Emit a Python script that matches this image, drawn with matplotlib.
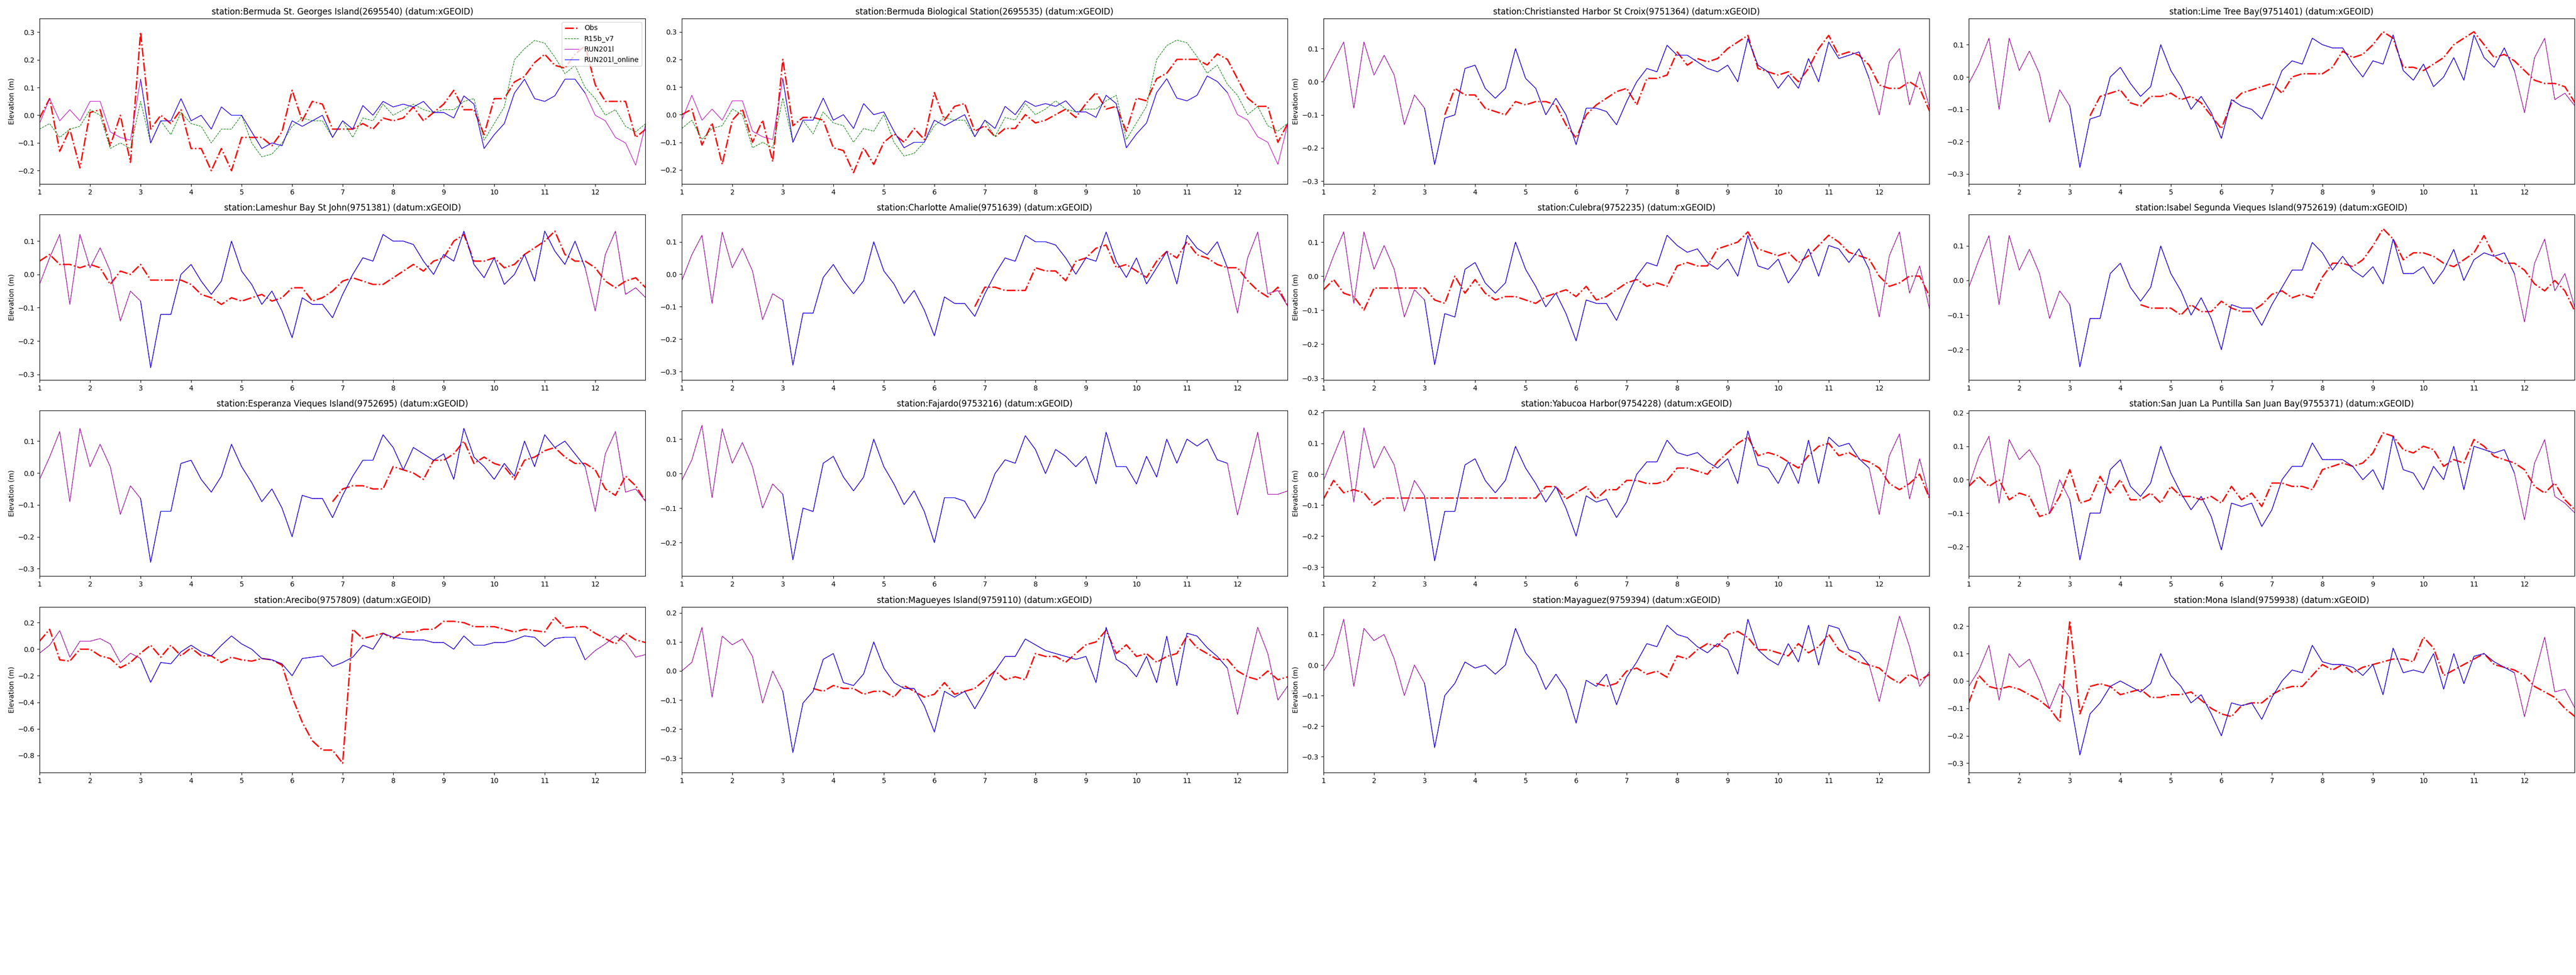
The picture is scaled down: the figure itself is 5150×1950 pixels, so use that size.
import numpy as np
import matplotlib
matplotlib.use("Agg")
import matplotlib.pyplot as plt

nan = np.nan

# time axis in days, one value every 0.2 day (1.0 .. 13.0)
days = np.round(np.arange(1.0, 13.01, 0.2), 1)
online_start, online_end = 3.0, 11.8

# ---- Bermuda St. Georges Island
bsg_obs = [
    -0.01, 0.06, -0.13, -0.05, -0.19, 0.01, 0.02, -0.11, 0.0, -0.17,
    0.30, -0.05, 0.0, -0.03, 0.02, -0.12, -0.12, -0.2, -0.12, -0.2,
    -0.08, -0.08, -0.08, -0.11, -0.06, 0.09, -0.02, 0.05, 0.04, -0.05,
    -0.05, -0.05, -0.03, -0.05, -0.01, -0.02, -0.01, 0.03, -0.02, 0.01,
    0.04, 0.09, 0.02, 0.02, -0.07, 0.06, 0.06, 0.12, 0.14, 0.19,
    0.22, 0.18, 0.17, 0.22, 0.25, 0.11, 0.05, 0.05, 0.05, -0.08, -0.05]
bsg_r15b = [
    -0.05, -0.03, -0.08, -0.05, -0.04, 0.02, 0.0, -0.12, -0.1, -0.12,
    0.05, -0.1, -0.02, -0.07, 0.01, -0.03, -0.04, -0.1, -0.05, -0.05,
    0.0, -0.1, -0.15, -0.14, -0.1, -0.04, -0.01, -0.02, -0.02, -0.08,
    -0.02, -0.08, -0.01, -0.02, 0.04, 0.0, 0.02, 0.04, 0.02, 0.01,
    0.02, 0.02, 0.05, 0.06, -0.09, -0.03, 0.03, 0.2, 0.24, 0.27,
    0.26, 0.21, 0.15, 0.18, 0.1, 0.06, 0.0, 0.02, -0.04, -0.06, -0.03]
bsg_run = [
    -0.03, 0.06, -0.02, 0.02, -0.02, 0.05, 0.05, -0.06, -0.08, -0.09,
    0.13, -0.1, -0.02, -0.02, 0.06, -0.02, 0.0, -0.05, 0.03, 0.0,
    0.0, -0.06, -0.12, -0.1, -0.11, -0.02, -0.04, -0.02, 0.0, -0.08,
    -0.02, -0.05, 0.035, 0.0, 0.05, 0.03, 0.04, 0.03, 0.05, 0.01,
    0.01, -0.01, 0.07, 0.04, -0.12, -0.07, -0.03, 0.08, 0.13, 0.06,
    0.05, 0.07, 0.13, 0.13, 0.08, 0.0, -0.02, -0.08, -0.1, -0.18, -0.03]

# ---- Bermuda Biological Station
bbs_obs = [
    0.0, 0.02, -0.11, -0.03, -0.18, -0.02, 0.02, -0.1, -0.02, -0.17,
    0.2, -0.04, -0.01, -0.01, -0.02, -0.12, -0.13, -0.21, -0.12, -0.18,
    -0.1, -0.07, -0.1, -0.05, -0.09, 0.08, -0.02, 0.03, 0.04, -0.06,
    -0.04, -0.08, -0.05, -0.05, 0.0, -0.03, -0.02, 0.0, 0.02, -0.01,
    0.04, 0.08, 0.02, 0.03, -0.06, 0.06, 0.05, 0.13, 0.15, 0.2,
    0.2, 0.2, 0.18, 0.22, 0.2, 0.13, 0.06, 0.03, 0.03, -0.1, -0.03]
bbs_r15b = [
    -0.05, -0.02, -0.09, -0.05, -0.04, 0.02, 0.0, -0.12, -0.1, -0.12,
    0.06, -0.1, -0.02, -0.07, 0.01, -0.03, -0.04, -0.1, -0.05, -0.06,
    0.0, -0.1, -0.15, -0.14, -0.1, -0.04, -0.01, -0.02, -0.02, -0.08,
    -0.02, -0.08, -0.01, -0.02, 0.04, 0.0, 0.02, 0.05, 0.02, 0.01,
    0.02, 0.02, 0.05, 0.07, -0.09, -0.03, 0.03, 0.2, 0.25, 0.27,
    0.26, 0.21, 0.15, 0.18, 0.11, 0.07, 0.0, 0.03, -0.04, -0.06, -0.03]
bbs_run = [
    -0.02, 0.07, -0.02, 0.02, -0.02, 0.05, 0.05, -0.06, -0.08, -0.09,
    0.13, -0.1, -0.02, -0.02, 0.06, -0.02, 0.0, -0.05, 0.04, 0.0,
    0.01, -0.06, -0.12, -0.1, -0.1, -0.02, -0.04, -0.02, 0.0, -0.08,
    -0.02, -0.05, 0.03, 0.0, 0.05, 0.03, 0.04, 0.03, 0.05, 0.01,
    0.01, -0.01, 0.07, 0.04, -0.12, -0.07, -0.03, 0.08, 0.13, 0.06,
    0.05, 0.07, 0.14, 0.12, 0.08, 0.0, -0.02, -0.08, -0.1, -0.18, -0.03]

# ---- Caribbean stations: the three model runs overlap almost exactly
chr_model = [
    0.0, 0.06, 0.12, -0.08, 0.12, 0.02, 0.08, 0.02, -0.13, -0.04,
    -0.08, -0.25, -0.11, -0.1, 0.04, 0.05, -0.02, -0.05, -0.02, 0.1,
    0.01, -0.02, -0.1, -0.05, -0.1, -0.19, -0.08, -0.08, -0.09, -0.13,
    -0.06, 0.0, 0.04, 0.03, 0.11, 0.08, 0.08, 0.06, 0.04, 0.03,
    0.05, 0.0, 0.13, 0.05, 0.03, -0.02, 0.02, -0.02, 0.07, 0.0,
    0.12, 0.07, 0.08, 0.09, 0.01, -0.1, 0.06, 0.1, -0.07, 0.03, -0.08]
chr_obs = [
    nan, nan, nan, nan, nan, nan, nan, nan, nan, nan,
    nan, nan, -0.1, -0.02, -0.04, -0.04, -0.08, -0.09, -0.1, -0.06,
    -0.07, -0.06, -0.06, -0.07, -0.13, -0.17, -0.1, -0.07, -0.05, -0.03,
    -0.02, -0.07, 0.01, 0.01, 0.02, 0.09, 0.05, 0.07, 0.06, 0.07,
    0.1, 0.12, 0.14, 0.04, 0.03, 0.02, 0.03, 0.0, 0.04, 0.1,
    0.14, 0.08, 0.09, 0.08, 0.05, -0.01, -0.02, -0.02, 0.0, -0.02, -0.09]

ltb_model = [
    -0.02, 0.04, 0.12, -0.1, 0.12, 0.02, 0.08, 0.01, -0.14, -0.04,
    -0.09, -0.28, -0.13, -0.12, 0.0, 0.03, -0.02, -0.06, -0.03, 0.1,
    0.02, -0.03, -0.1, -0.06, -0.11, -0.19, -0.07, -0.09, -0.1, -0.13,
    -0.06, 0.02, 0.05, 0.04, 0.12, 0.1, 0.09, 0.09, 0.04, 0.0,
    0.05, 0.04, 0.13, 0.02, -0.01, 0.04, -0.03, 0.0, 0.06, -0.01,
    0.13, 0.06, 0.03, 0.09, 0.02, -0.11, 0.06, 0.12, -0.07, -0.05, -0.09]
ltb_obs = [
    nan, nan, nan, nan, nan, nan, nan, nan, nan, nan,
    nan, nan, -0.12, -0.06, -0.05, -0.04, -0.08, -0.09, -0.06, -0.06,
    -0.05, -0.07, -0.06, -0.08, -0.12, -0.16, -0.08, -0.05, -0.04, -0.03,
    -0.02, -0.05, 0.0, 0.01, 0.01, 0.01, 0.03, 0.08, 0.06, 0.07,
    0.1, 0.14, 0.12, 0.03, 0.03, 0.02, 0.04, 0.06, 0.1, 0.12,
    0.14, 0.1, 0.06, 0.07, 0.05, 0.02, -0.01, -0.02, -0.02, -0.03, -0.08]

lam_model = [
    -0.03, 0.05, 0.12, -0.09, 0.12, 0.02, 0.08, 0.01, -0.14, -0.05,
    -0.08, -0.28, -0.12, -0.12, 0.0, 0.03, -0.02, -0.06, -0.02, 0.1,
    0.01, -0.03, -0.09, -0.05, -0.11, -0.19, -0.07, -0.09, -0.09, -0.13,
    -0.06, 0.0, 0.05, 0.04, 0.12, 0.1, 0.1, 0.09, 0.04, 0.0,
    0.06, 0.04, 0.13, 0.03, -0.01, 0.05, -0.03, 0.0, 0.06, -0.02,
    0.13, 0.07, 0.03, 0.1, 0.02, -0.11, 0.06, 0.13, -0.06, -0.04, -0.07]
lam_obs = [
    0.04, 0.06, 0.03, 0.03, 0.02, 0.03, 0.02, -0.03, 0.01, 0.0,
    0.03, -0.017, -0.017, -0.017, -0.017, -0.03, -0.06, -0.07, -0.09, -0.07,
    -0.08, -0.07, -0.06, -0.08, -0.07, -0.04, -0.04, -0.08, -0.07, -0.05,
    -0.02, -0.01, -0.02, -0.03, -0.03, -0.01, 0.01, 0.03, 0.01, 0.04,
    0.05, 0.1, 0.12, 0.04, 0.04, 0.05, 0.02, 0.03, 0.06, 0.08,
    0.1, 0.13, 0.06, 0.04, 0.04, 0.02, -0.02, -0.04, -0.02, -0.01, -0.04]

cha_model = [
    -0.02, 0.06, 0.12, -0.09, 0.13, 0.02, 0.08, 0.01, -0.14, -0.06,
    -0.08, -0.28, -0.12, -0.12, -0.01, 0.03, -0.02, -0.06, -0.02, 0.1,
    0.01, -0.03, -0.09, -0.05, -0.11, -0.19, -0.07, -0.09, -0.09, -0.13,
    -0.06, 0.0, 0.05, 0.04, 0.12, 0.1, 0.1, 0.09, 0.05, 0.0,
    0.05, 0.04, 0.13, 0.04, -0.01, 0.05, -0.03, 0.02, 0.07, -0.03,
    0.12, 0.08, 0.06, 0.1, 0.02, -0.12, 0.05, 0.13, -0.06, -0.05, -0.1]
cha_obs = [
    nan, nan, nan, nan, nan, nan, nan, nan, nan, nan,
    nan, nan, nan, nan, nan, nan, nan, nan, nan, nan,
    nan, nan, nan, nan, nan, nan, nan, nan, nan, -0.1,
    -0.04, -0.04, -0.05, -0.05, -0.05, 0.02, 0.01, 0.01, -0.02, 0.04,
    0.05, 0.08, 0.09, 0.02, 0.03, 0.01, -0.01, 0.04, 0.07, 0.05,
    0.1, 0.06, 0.05, 0.03, 0.02, 0.02, -0.02, -0.05, -0.07, -0.04, -0.1]

cul_model = [
    -0.02, 0.06, 0.13, -0.08, 0.13, 0.02, 0.09, 0.02, -0.12, -0.04,
    -0.07, -0.26, -0.11, -0.12, 0.02, 0.04, -0.02, -0.05, -0.02, 0.1,
    0.02, -0.03, -0.09, -0.05, -0.11, -0.19, -0.07, -0.08, -0.08, -0.13,
    -0.06, 0.0, 0.04, 0.03, 0.12, 0.09, 0.07, 0.08, 0.04, 0.02,
    0.05, 0.0, 0.12, 0.03, 0.02, 0.05, -0.02, 0.02, 0.08, 0.0,
    0.09, 0.08, 0.04, 0.08, 0.02, -0.12, 0.06, 0.13, -0.05, 0.03, -0.1]
cul_obs = [
    -0.04, -0.01, -0.05, -0.06, -0.1, -0.035, -0.035, -0.035, -0.035, -0.035,
    -0.035, -0.07, -0.08, 0.0, -0.05, -0.01, -0.05, -0.07, -0.06, -0.06,
    -0.07, -0.08, -0.06, -0.05, -0.04, -0.06, -0.03, -0.07, -0.06, -0.04,
    -0.02, -0.01, -0.03, -0.02, -0.03, 0.03, 0.04, 0.03, 0.03, 0.08,
    0.09, 0.1, 0.13, 0.08, 0.07, 0.06, 0.07, 0.04, 0.06, 0.09,
    0.12, 0.1, 0.07, 0.06, 0.05, 0.0, -0.03, -0.02, 0.0, 0.0, -0.06]

isa_model = [
    -0.02, 0.06, 0.13, -0.07, 0.13, 0.03, 0.09, 0.02, -0.11, -0.03,
    -0.07, -0.25, -0.11, -0.11, 0.02, 0.05, -0.02, -0.06, -0.02, 0.1,
    0.02, -0.03, -0.1, -0.05, -0.11, -0.2, -0.07, -0.08, -0.08, -0.13,
    -0.07, -0.02, 0.03, 0.03, 0.11, 0.08, 0.03, 0.07, 0.03, 0.01,
    0.04, -0.01, 0.12, 0.02, 0.02, 0.04, -0.01, 0.03, 0.09, 0.0,
    0.06, 0.08, 0.07, 0.08, 0.02, -0.12, 0.05, 0.12, -0.03, 0.02, -0.08]
isa_obs = [
    nan, nan, nan, nan, nan, nan, nan, nan, nan, nan,
    nan, nan, nan, nan, nan, nan, nan, -0.07, -0.08, -0.08,
    -0.08, -0.1, -0.07, -0.09, -0.09, -0.06, -0.08, -0.09, -0.09, -0.07,
    -0.04, -0.03, -0.05, -0.04, -0.05, 0.01, 0.05, 0.05, 0.04, 0.06,
    0.1, 0.15, 0.12, 0.06, 0.08, 0.08, 0.07, 0.05, 0.04, 0.06,
    0.08, 0.13, 0.07, 0.05, 0.05, 0.03, -0.01, -0.03, 0.0, -0.03, -0.09]

esp_model = [
    -0.02, 0.05, 0.13, -0.09, 0.14, 0.02, 0.09, 0.02, -0.13, -0.04,
    -0.08, -0.28, -0.12, -0.12, 0.03, 0.04, -0.02, -0.06, -0.01, 0.09,
    0.02, -0.03, -0.09, -0.05, -0.11, -0.2, -0.07, -0.08, -0.08, -0.14,
    -0.07, -0.01, 0.04, 0.04, 0.12, 0.08, 0.01, 0.08, 0.06, 0.04,
    0.06, -0.02, 0.14, 0.05, 0.02, -0.02, 0.03, -0.01, 0.1, 0.02,
    0.12, 0.08, 0.1, 0.06, 0.02, -0.12, 0.06, 0.13, -0.06, -0.05, -0.09]
esp_obs = [
    nan, nan, nan, nan, nan, nan, nan, nan, nan, nan,
    nan, nan, nan, nan, nan, nan, nan, nan, nan, nan,
    nan, nan, nan, nan, nan, nan, nan, nan, nan, -0.09,
    -0.05, -0.04, -0.04, -0.05, -0.05, 0.02, 0.01, 0.0, -0.02, 0.04,
    0.04, 0.06, 0.1, 0.03, 0.05, 0.03, 0.02, -0.02, 0.04, 0.05,
    0.07, 0.08, 0.05, 0.03, 0.03, 0.01, -0.05, -0.07, -0.01, -0.04, -0.09]

faj_model = [
    -0.02, 0.04, 0.14, -0.07, 0.13, 0.03, 0.09, 0.02, -0.1, -0.03,
    -0.06, -0.25, -0.1, -0.11, 0.03, 0.05, -0.01, -0.05, -0.01, 0.1,
    0.02, -0.03, -0.09, -0.05, -0.11, -0.2, -0.07, -0.07, -0.08, -0.13,
    -0.08, 0.0, 0.04, 0.03, 0.11, 0.07, 0.0, 0.07, 0.05, 0.02,
    0.05, -0.03, 0.12, 0.02, 0.02, -0.03, 0.05, -0.01, 0.1, 0.03,
    0.1, 0.08, 0.1, 0.04, 0.03, -0.12, 0.0, 0.12, -0.06, -0.06, -0.05]
faj_obs = [nan] * 61  # no observations at this station

yab_model = [
    -0.02, 0.06, 0.14, -0.09, 0.15, 0.02, 0.09, 0.03, -0.12, -0.02,
    -0.07, -0.28, -0.12, -0.12, 0.03, 0.05, -0.02, -0.06, -0.02, 0.09,
    0.02, -0.03, -0.09, -0.04, -0.11, -0.2, -0.07, -0.09, -0.08, -0.14,
    -0.09, 0.0, 0.04, 0.04, 0.11, 0.07, 0.06, 0.07, 0.04, 0.02,
    0.05, -0.03, 0.14, 0.03, 0.02, -0.03, 0.04, -0.03, 0.11, -0.03,
    0.12, 0.09, 0.1, 0.05, 0.02, -0.13, 0.06, 0.13, -0.08, 0.05, -0.08]
yab_obs = [
    -0.08, -0.02, -0.06, -0.05, -0.06, -0.1, -0.077, -0.077, -0.077, -0.077,
    -0.077, -0.077, -0.077, -0.077, -0.077, -0.077, -0.077, -0.077, -0.077, -0.077,
    -0.077, -0.077, -0.04, -0.04, -0.08, -0.06, -0.04, -0.08, -0.05, -0.05,
    -0.02, -0.02, -0.03, -0.03, -0.02, 0.02, 0.02, 0.01, 0.0, 0.04,
    0.07, 0.1, 0.12, 0.06, 0.07, 0.06, 0.04, 0.02, 0.06, 0.09,
    0.1, 0.06, 0.07, 0.05, 0.04, 0.02, -0.03, -0.05, -0.03, 0.0, -0.08]

sjn_model = [
    -0.02, 0.07, 0.13, -0.07, 0.12, 0.06, 0.09, 0.04, -0.1, 0.0,
    -0.06, -0.24, -0.1, -0.1, 0.03, 0.06, -0.02, -0.05, -0.01, 0.1,
    0.02, -0.04, -0.09, -0.05, -0.11, -0.21, -0.07, -0.08, -0.07, -0.14,
    -0.09, 0.0, 0.04, 0.04, 0.11, 0.06, 0.06, 0.06, 0.04, 0.0,
    0.03, -0.03, 0.13, 0.03, 0.02, -0.03, 0.04, 0.0, 0.1, -0.03,
    0.1, 0.09, 0.08, 0.09, 0.02, -0.12, 0.05, 0.12, -0.05, -0.07, -0.1]
sjn_obs = [
    -0.02, 0.01, -0.02, 0.0, -0.06, -0.04, -0.05, -0.11, -0.1, -0.05,
    0.03, -0.07, -0.06, 0.01, -0.04, 0.0, -0.06, -0.06, -0.04, -0.07,
    -0.02, -0.05, -0.05, -0.06, -0.05, -0.07, -0.02, -0.06, -0.04, -0.08,
    -0.01, -0.01, -0.02, -0.02, -0.03, 0.03, 0.04, 0.05, 0.04, 0.05,
    0.08, 0.14, 0.13, 0.09, 0.08, 0.1, 0.09, 0.04, 0.06, 0.05,
    0.12, 0.1, 0.07, 0.06, 0.05, 0.03, -0.02, -0.04, -0.01, -0.06, -0.09]

are_model = [
    -0.03, 0.03, 0.14, -0.06, 0.06, 0.06, 0.08, 0.04, -0.1, -0.03,
    -0.07, -0.25, -0.1, -0.11, -0.02, 0.03, -0.02, -0.05, 0.03, 0.1,
    0.04, 0.0, -0.07, -0.08, -0.11, -0.2, -0.07, -0.06, -0.05, -0.13,
    -0.1, -0.06, 0.03, 0.0, 0.12, 0.09, 0.08, 0.07, 0.07, 0.05,
    0.05, 0.0, 0.1, 0.03, 0.03, 0.05, 0.05, 0.07, 0.1, 0.09,
    0.02, 0.08, 0.09, 0.09, -0.08, -0.01, 0.04, 0.1, 0.05, -0.06, -0.04]
are_obs = [
    0.06, 0.15, -0.08, -0.09, 0.0, 0.0, -0.05, -0.07, -0.14, -0.1,
    -0.03, 0.03, -0.06, 0.03, -0.05, 0.01, -0.05, -0.05, -0.1, -0.06,
    -0.08, -0.09, -0.07, -0.08, -0.12, -0.36, -0.55, -0.69, -0.76, -0.76,
    -0.86, 0.15, 0.08, 0.1, 0.12, 0.08, 0.13, 0.13, 0.15, 0.15,
    0.21, 0.21, 0.2, 0.17, 0.17, 0.17, 0.15, 0.13, 0.15, 0.14,
    0.13, 0.24, 0.16, 0.17, 0.17, 0.12, 0.08, 0.04, 0.12, 0.07, 0.05]

mag_model = [
    0.0, 0.03, 0.15, -0.09, 0.12, 0.09, 0.11, 0.05, -0.11, 0.0,
    -0.07, -0.28, -0.11, -0.07, 0.04, 0.06, -0.04, -0.05, -0.01, 0.1,
    0.01, -0.04, -0.06, -0.06, -0.12, -0.21, -0.07, -0.09, -0.07, -0.13,
    -0.07, 0.0, 0.05, 0.05, 0.11, 0.09, 0.07, 0.06, 0.05, 0.04,
    0.05, -0.04, 0.15, 0.04, 0.02, -0.02, 0.05, -0.04, 0.12, -0.05,
    0.13, 0.12, 0.08, 0.05, 0.01, -0.15, 0.0, 0.15, 0.06, -0.1, -0.05]
mag_obs = [
    nan, nan, nan, nan, nan, nan, nan, nan, nan, nan,
    nan, nan, nan, -0.06, -0.07, -0.05, -0.06, -0.06, -0.08, -0.07,
    -0.07, -0.09, -0.05, -0.07, -0.09, -0.08, -0.04, -0.08, -0.07, -0.06,
    -0.03, 0.0, -0.03, -0.02, -0.03, 0.06, 0.05, 0.05, 0.03, 0.06,
    0.09, 0.1, 0.14, 0.06, 0.09, 0.05, 0.06, 0.03, 0.05, 0.06,
    0.12, 0.08, 0.06, 0.04, 0.04, 0.0, -0.02, -0.03, 0.0, -0.03, -0.02]

may_model = [
    -0.02, 0.03, 0.15, -0.07, 0.12, 0.08, 0.1, 0.02, -0.1, 0.0,
    -0.06, -0.27, -0.1, -0.06, 0.01, -0.01, 0.0, -0.03, 0.0, 0.12,
    0.04, 0.0, -0.08, -0.03, -0.08, -0.19, -0.05, -0.07, -0.03, -0.13,
    -0.04, 0.01, 0.07, 0.06, 0.13, 0.1, 0.09, 0.06, 0.04, 0.07,
    0.05, -0.03, 0.15, 0.05, 0.02, 0.0, 0.07, 0.01, 0.13, 0.0,
    0.13, 0.12, 0.05, 0.04, 0.0, -0.12, 0.02, 0.16, 0.06, -0.07, -0.02]
may_obs = [
    nan, nan, nan, nan, nan, nan, nan, nan, nan, nan,
    nan, nan, nan, nan, nan, nan, nan, nan, nan, nan,
    nan, nan, nan, nan, nan, nan, nan, -0.06, -0.07, -0.06,
    -0.02, -0.01, -0.03, -0.02, -0.04, 0.03, 0.02, 0.05, 0.07, 0.06,
    0.1, 0.11, 0.09, 0.05, 0.05, 0.04, 0.03, 0.07, 0.04, 0.06,
    0.1, 0.05, 0.03, 0.01, 0.0, -0.01, -0.04, -0.06, -0.03, -0.05, -0.03]

mon_model = [
    -0.02, 0.04, 0.13, -0.07, 0.1, 0.05, 0.08, 0.0, -0.1, -0.01,
    -0.06, -0.27, -0.12, -0.08, -0.02, 0.0, -0.02, -0.04, -0.01, 0.1,
    0.02, -0.02, -0.08, -0.05, -0.12, -0.2, -0.08, -0.09, -0.08, -0.14,
    -0.06, 0.0, 0.04, 0.03, 0.13, 0.07, 0.06, 0.06, 0.05, 0.02,
    0.06, -0.05, 0.12, 0.03, 0.04, 0.03, 0.1, -0.03, 0.1, -0.01,
    0.09, 0.1, 0.07, 0.05, 0.03, -0.13, 0.02, 0.16, -0.04, -0.03, -0.1]
mon_obs = [
    -0.08, 0.02, -0.02, -0.03, -0.02, -0.03, -0.05, -0.07, -0.1, -0.15,
    0.22, -0.12, -0.02, -0.01, -0.02, -0.05, -0.04, -0.03, -0.06, -0.06,
    -0.05, -0.05, -0.04, -0.07, -0.1, -0.12, -0.13, -0.09, -0.08, -0.08,
    -0.05, -0.03, -0.02, -0.02, 0.02, 0.06, 0.04, 0.06, 0.03, 0.05,
    0.06, 0.07, 0.08, 0.08, 0.07, 0.16, 0.12, 0.02, 0.04, 0.06,
    0.08, 0.1, 0.06, 0.05, 0.04, 0.02, -0.02, -0.04, -0.06, -0.1, -0.13]

titles = [
    "station:Bermuda St. Georges Island(2695540) (datum:xGEOID)",
    "station:Bermuda Biological Station(2695535) (datum:xGEOID)",
    "station:Christiansted Harbor St Croix(9751364) (datum:xGEOID)",
    "station:Lime Tree Bay(9751401) (datum:xGEOID)",
    "station:Lameshur Bay St John(9751381) (datum:xGEOID)",
    "station:Charlotte Amalie(9751639) (datum:xGEOID)",
    "station:Culebra(9752235) (datum:xGEOID)",
    "station:Isabel Segunda Vieques Island(9752619) (datum:xGEOID)",
    "station:Esperanza Vieques Island(9752695) (datum:xGEOID)",
    "station:Fajardo(9753216) (datum:xGEOID)",
    "station:Yabucoa Harbor(9754228) (datum:xGEOID)",
    "station:San Juan La Puntilla San Juan Bay(9755371) (datum:xGEOID)",
    "station:Arecibo(9757809) (datum:xGEOID)",
    "station:Magueyes Island(9759110) (datum:xGEOID)",
    "station:Mayaguez(9759394) (datum:xGEOID)",
    "station:Mona Island(9759938) (datum:xGEOID)",
]

# (obs, R15b_v7, RUN201l, RUN201l_online) per panel
series = [
    (bsg_obs, bsg_r15b, bsg_run, bsg_run),
    (bbs_obs, bbs_r15b, bbs_run, bbs_run),
    (chr_obs, chr_model, chr_model, chr_model),
    (ltb_obs, ltb_model, ltb_model, ltb_model),
    (lam_obs, lam_model, lam_model, lam_model),
    (cha_obs, cha_model, cha_model, cha_model),
    (cul_obs, cul_model, cul_model, cul_model),
    (isa_obs, isa_model, isa_model, isa_model),
    (esp_obs, esp_model, esp_model, esp_model),
    (faj_obs, faj_model, faj_model, faj_model),
    (yab_obs, yab_model, yab_model, yab_model),
    (sjn_obs, sjn_model, sjn_model, sjn_model),
    (are_obs, are_model, are_model, are_model),
    (mag_obs, mag_model, mag_model, mag_model),
    (may_obs, may_model, may_model, may_model),
    (mon_obs, mon_model, mon_model, mon_model),
]

ylims = [(-0.248, 0.349), (-0.251, 0.348), (-0.309, 0.191), (-0.331, 0.181),
         (-0.317, 0.18), (-0.326, 0.184), (-0.305, 0.181), (-0.288, 0.191),
         (-0.323, 0.196), (-0.297, 0.183), (-0.329, 0.206), (-0.288, 0.207),
         (-0.929, 0.318), (-0.349, 0.22), (-0.352, 0.19), (-0.334, 0.27)]

W, H = 5150, 1950
fig = plt.figure(figsize=(W / 100, H / 100), dpi=100)

col_left = [79, 1363, 2646, 3936]
row_top = [37, 429, 821, 1214]
ax_w, ax_h = 1211, 331

online_mask = (days >= online_start) & (days <= online_end)

for k in range(16):
    r, c = divmod(k, 4)
    ax = fig.add_axes([col_left[c] / W, 1 - (row_top[r] + ax_h) / H, ax_w / W, ax_h / H])
    obs, r15, run, onl = series[k]
    ax.plot(days, obs, color="r", linestyle="-.", linewidth=2, label="Obs")
    ax.plot(days, r15, color="g", linestyle="--", linewidth=0.8, label="R15b_v7")
    ax.plot(days, run, color="m", linewidth=0.8, label="RUN201l")
    ax.plot(days[online_mask], np.array(onl)[online_mask], color="b", linewidth=0.8,
            label="RUN201l_online")
    ax.set_xlim(1, 12.99)
    ax.set_xticks(range(1, 13))
    ax.set_ylim(*ylims[k])
    ax.set_title(titles[k])
    if c in (0, 2):
        ax.set_ylabel("Elevation (m)")
    if k == 0:
        ax.legend(loc="upper right")

fig.savefig("out.png", dpi=100)
